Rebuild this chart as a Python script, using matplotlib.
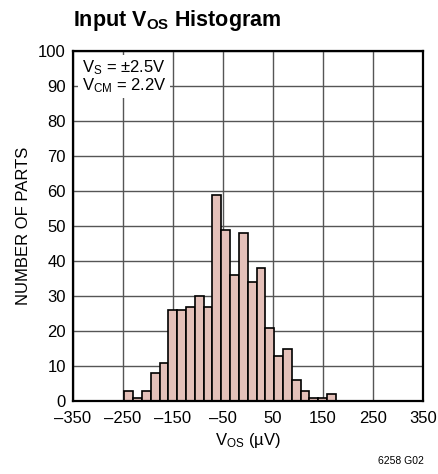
import numpy as np
import matplotlib
matplotlib.use("Agg")
import matplotlib.pyplot as plt

# histogram counts, left to right
counts = [3, 1, 3, 8, 11, 26, 26, 27, 30, 27, 59, 49,
          36, 48, 34, 38, 21, 13, 15, 6, 3, 1, 1, 2]
bin_lo = -247.0
bin_hi = 176.0
xticks = [-350, -250, -150, -50, 50, 150, 250, 350]
yticks = list(range(0, 101, 10))

plt.rcParams['font.family'] = ['Liberation Sans', 'DejaVu Sans']
plt.rcParams['mathtext.fontset'] = 'custom'
plt.rcParams['mathtext.rm'] = 'Liberation Sans'
plt.rcParams['mathtext.it'] = 'Liberation Sans'
plt.rcParams['mathtext.bf'] = 'Liberation Sans:bold'

fig = plt.figure(figsize=(4.39, 4.74), dpi=100)
ax = fig.add_axes([0.1656, 0.154, 0.7978, 0.738])

edges = np.linspace(bin_lo, bin_hi, len(counts) + 1)
ax.bar(edges[:-1], counts, width=np.diff(edges), align='edge',
       color='#e4c0b9', edgecolor='black', linewidth=1.2, zorder=3)

ax.set_xlim(-350, 350)
ax.set_ylim(0, 100)
ax.set_xticks(xticks)
ax.set_xticklabels([str(t).replace('-', '\u2013') for t in xticks])
ax.set_yticks(yticks)
ax.grid(True, color='#555555', linewidth=1.0, zorder=1)
ax.tick_params(length=0, labelsize=12)
ax.tick_params(axis='x', pad=7)
ax.tick_params(axis='y', pad=5)
for s in ax.spines.values():
    s.set_linewidth(1.6)
    s.set_zorder(5)

ax.set_xlabel('V$_{\\mathrm{OS}}$ (\u00b5V)', fontsize=12, labelpad=4)
ax.set_ylabel('NUMBER OF PARTS', fontsize=12, labelpad=5)

ax.text(-332, 98, 'V$_{\\mathrm{S}}$ = \u00b12.5V\nV$_{\\mathrm{CM}}$ = 2.2V',
        fontsize=12, va='top', ha='left', linespacing=0.95, zorder=4,
        bbox=dict(facecolor='white', edgecolor='none', pad=2.5))

fig.text(0.166, 0.946, 'Input V$_{\\mathbf{OS}}$ Histogram', fontsize=15.5,
         fontweight='bold', ha='left', va='baseline')
fig.text(0.966, 0.022, '6258 G02', fontsize=7.5, ha='right', va='baseline')

fig.savefig('out.png', dpi=100)
